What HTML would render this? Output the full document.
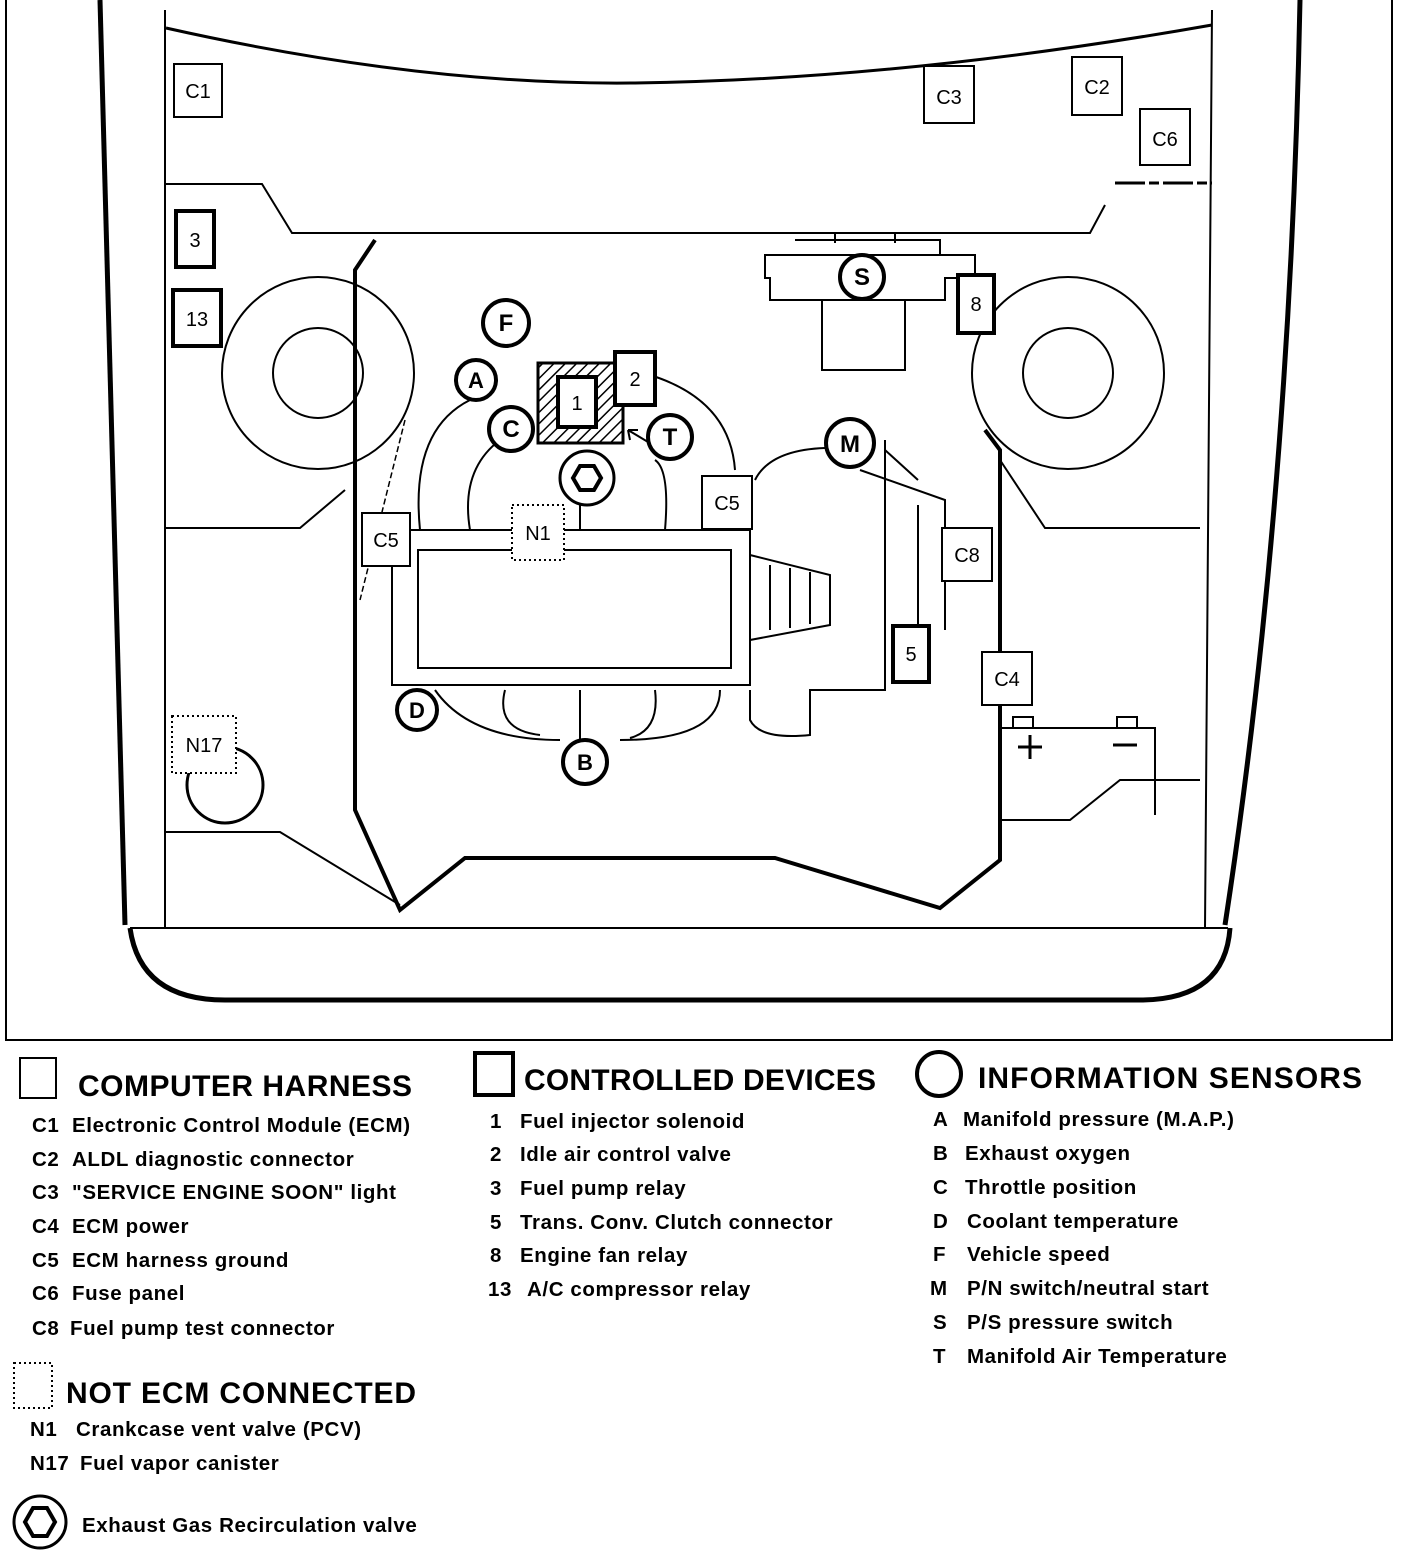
<!DOCTYPE html>
<html><head><style>
body{margin:0;background:#fff}
svg text{font-family:"Liberation Sans",sans-serif;font-weight:bold;fill:#000}
</style></head><body>
<svg width="1408" height="1554" viewBox="0 0 1408 1554" xmlns="http://www.w3.org/2000/svg">
<g fill="none" stroke="#000">
<path d="M6 0 V1040 H1392 V0" stroke-width="2"/>
<path d="M100 0 Q112 500 125 925" stroke-width="5"/>
<path d="M1300 0 Q1290 500 1225 925" stroke-width="5"/>
<path d="M130 928 Q140 1000 225 1000 H1140 Q1225 1000 1230 928" stroke-width="5"/>
<path d="M130 928 H1228" stroke-width="2"/>
<path d="M165 10 V928 M1212 10 Q1210 450 1205 928" stroke-width="2"/>
<path d="M166 28 Q420 85 631 83 Q900 80 1212 25" stroke-width="3"/>
<path d="M165 184 H262 L292 233 H1090 L1105 205" stroke-width="2"/>
<path d="M1115 183 H1212" stroke-width="3" stroke-dasharray="30 4 10 4"/>
<path d="M375 240 L355 270 V810 L400 910 L465 858 H775 L940 908 L1000 860 V450 L985 430" stroke-width="4"/>
<path d="M165 832 H280 L400 905" stroke-width="2"/>
<path d="M1200 780 H1120 L1070 820 H1000" stroke-width="2"/>
<path d="M165 528 H300 L345 490" stroke-width="2"/>
<path d="M1200 528 H1045 L1000 460" stroke-width="2"/>
<circle cx="318" cy="373" r="96" stroke-width="2"/><circle cx="318" cy="373" r="45" stroke-width="2"/>
<circle cx="1068" cy="373" r="96" stroke-width="2"/><circle cx="1068" cy="373" r="45" stroke-width="2"/>
<path d="M405 420 L360 600" stroke-width="1.5" stroke-dasharray="6 3"/>
<path d="M765 255 H975 V278 H945 V300 H770 V278 H765 Z" stroke-width="2"/>
<path d="M795 240 H940 V255 M822 300 V370 H905 V300 M835 232 V243 M895 232 V243" stroke-width="2"/>
<rect x="392" y="530" width="358" height="155" stroke-width="2"/>
<rect x="418" y="550" width="313" height="118" stroke-width="2"/>
<path d="M750 555 L830 575 V625 L750 640 Z M770 565 V630 M790 568 V628 M810 572 V624" stroke-width="2"/>
<path d="M420 530 Q410 430 470 400 M470 530 Q460 470 500 440 M665 530 Q670 470 655 460 M735 470 Q730 400 650 375" stroke-width="2"/>
<path d="M435 690 Q470 740 560 740 M505 690 Q495 730 540 735 M620 740 Q720 740 720 690 M655 690 Q660 730 630 738 M580 690 V740" stroke-width="2"/>
<path d="M750 690 V720 Q760 740 810 735 V690 Q830 690 840 690 H885 V440 M860 470 L945 500 V630" stroke-width="2"/>
<path d="M755 480 Q770 450 825 448 M750 530 V480 M918 505 V630 M885 450 L918 480" stroke-width="2"/>
<path d="M580 505 V530" stroke-width="2"/>
<path d="M1000 728 H1155 V815" stroke-width="2"/>
<rect x="1013" y="717" width="20" height="11" stroke-width="2"/><rect x="1117" y="717" width="20" height="11" stroke-width="2"/>
<path d="M1018 747 H1042 M1030 735 V759 M1113 745 H1137" stroke-width="3"/>
<circle cx="225" cy="785" r="38" stroke-width="3"/>
</g>
<defs><pattern id="h" width="8" height="8" patternUnits="userSpaceOnUse" patternTransform="rotate(45)"><rect width="8" height="8" fill="#fff"/><line x1="0" y1="0" x2="0" y2="8" stroke="#000" stroke-width="3"/></pattern></defs>
<rect x="538" y="363" width="85" height="80" fill="url(#h)" stroke="#000" stroke-width="3"/>
<g stroke="#000" fill="#fff">
<rect x="174" y="64" width="48" height="53" stroke-width="2"/>
<rect x="924" y="66" width="50" height="57" stroke-width="2"/>
<rect x="1072" y="57" width="50" height="58" stroke-width="2"/>
<rect x="1140" y="109" width="50" height="56" stroke-width="2"/>
<rect x="362" y="513" width="48" height="53" stroke-width="2"/>
<rect x="702" y="476" width="50" height="53" stroke-width="2"/>
<rect x="942" y="528" width="50" height="53" stroke-width="2"/>
<rect x="982" y="652" width="50" height="53" stroke-width="2"/>
<rect x="176" y="211" width="38" height="56" stroke-width="4"/>
<rect x="173" y="290" width="48" height="56" stroke-width="4"/>
<rect x="958" y="275" width="36" height="58" stroke-width="4"/>
<rect x="558" y="377" width="38" height="50" stroke-width="4"/>
<rect x="615" y="352" width="40" height="53" stroke-width="4"/>
<rect x="893" y="626" width="36" height="56" stroke-width="4"/>
<rect x="512" y="505" width="52" height="55" stroke-width="2" stroke-dasharray="2 3"/>
<rect x="172" y="716" width="64" height="57" stroke-width="2" stroke-dasharray="2 3"/>
<circle cx="506" cy="323" r="23" stroke-width="4"/>
<circle cx="476" cy="380" r="20" stroke-width="4"/>
<circle cx="511" cy="429" r="22" stroke-width="4"/>
<circle cx="670" cy="437" r="22" stroke-width="4"/>
<circle cx="862" cy="277" r="22" stroke-width="4"/>
<circle cx="850" cy="443" r="24" stroke-width="4"/>
<circle cx="417" cy="710" r="20" stroke-width="4"/>
<circle cx="585" cy="762" r="22" stroke-width="4"/>
<circle cx="587" cy="478" r="27" stroke-width="3"/>
<polygon points="580,466 594,466 601,478 594,490 580,490 573,478" stroke-width="4"/>
</g>
<path d="M628 430 L648 442 M628 430 L630 440 M628 430 L638 430" stroke="#000" stroke-width="2" fill="none"/>
<g font-size="20" text-anchor="middle">
<text x="198" y="98" style="font-weight:normal">C1</text>
<text x="949" y="104" style="font-weight:normal">C3</text>
<text x="1097" y="94" style="font-weight:normal">C2</text>
<text x="1165" y="146" style="font-weight:normal">C6</text>
<text x="386" y="547" style="font-weight:normal">C5</text>
<text x="727" y="510" style="font-weight:normal">C5</text>
<text x="967" y="562" style="font-weight:normal">C8</text>
<text x="1007" y="686" style="font-weight:normal">C4</text>
<text x="195" y="247" style="font-weight:normal">3</text>
<text x="197" y="326" style="font-weight:normal">13</text>
<text x="976" y="311" style="font-weight:normal">8</text>
<text x="577" y="410" style="font-weight:normal">1</text>
<text x="635" y="386" style="font-weight:normal">2</text>
<text x="911" y="661" style="font-weight:normal">5</text>
<text x="538" y="540" style="font-weight:normal">N1</text>
<text x="204" y="752" style="font-weight:normal">N17</text>
<text x="506" y="331" font-size="24">F</text>
<text x="476" y="388" font-size="22">A</text>
<text x="511" y="437" font-size="24">C</text>
<text x="670" y="445" font-size="24">T</text>
<text x="862" y="285" font-size="24">S</text>
<text x="850" y="452" font-size="24">M</text>
<text x="417" y="718" font-size="22">D</text>
<text x="585" y="770" font-size="22">B</text>
</g>
<rect x="20" y="1058" width="36" height="40" fill="none" stroke="#000" stroke-width="2"/>
<text x="78" y="1096" font-size="30" textLength="334">COMPUTER HARNESS</text>
<rect x="475" y="1053" width="38" height="42" fill="none" stroke="#000" stroke-width="4"/>
<text x="524" y="1090" font-size="30" textLength="352">CONTROLLED DEVICES</text>
<circle cx="939" cy="1074" r="22" fill="none" stroke="#000" stroke-width="4"/>
<text x="978" y="1088" font-size="30" textLength="384">INFORMATION SENSORS</text>
<rect x="14" y="1363" width="38" height="45" fill="none" stroke="#000" stroke-width="2" stroke-dasharray="2 3"/>
<text x="66" y="1403" font-size="30" textLength="350">NOT ECM CONNECTED</text>
<g font-size="20.5" letter-spacing="0.6">
<text x="32" y="1132">C1 <tspan x="72">Electronic Control Module (ECM)</tspan></text>
<text x="32" y="1166">C2 <tspan x="72">ALDL diagnostic connector</tspan></text>
<text x="32" y="1199">C3 <tspan x="72">"SERVICE ENGINE SOON" light</tspan></text>
<text x="32" y="1233">C4 <tspan x="72">ECM power</tspan></text>
<text x="32" y="1267">C5 <tspan x="72">ECM harness ground</tspan></text>
<text x="32" y="1300">C6 <tspan x="72">Fuse panel</tspan></text>
<text x="32" y="1335">C8 <tspan x="70">Fuel pump test connector</tspan></text>
<text x="30" y="1436">N1 <tspan x="76">Crankcase vent valve (PCV)</tspan></text>
<text x="30" y="1470">N17 <tspan x="80">Fuel vapor canister</tspan></text>
<text x="82" y="1532">Exhaust Gas Recirculation valve</text>
<text x="490" y="1128">1 <tspan x="520">Fuel injector solenoid</tspan></text>
<text x="490" y="1161">2 <tspan x="520">Idle air control valve</tspan></text>
<text x="490" y="1195">3 <tspan x="520">Fuel pump relay</tspan></text>
<text x="490" y="1229">5 <tspan x="520">Trans. Conv. Clutch connector</tspan></text>
<text x="490" y="1262">8 <tspan x="520">Engine fan relay</tspan></text>
<text x="488" y="1296">13 <tspan x="527">A/C compressor relay</tspan></text>
<text x="933" y="1126">A <tspan x="963">Manifold pressure (M.A.P.)</tspan></text>
<text x="933" y="1160">B <tspan x="965">Exhaust oxygen</tspan></text>
<text x="933" y="1194">C <tspan x="965">Throttle position</tspan></text>
<text x="933" y="1228">D <tspan x="967">Coolant temperature</tspan></text>
<text x="933" y="1261">F <tspan x="967">Vehicle speed</tspan></text>
<text x="930" y="1295">M <tspan x="967">P/N switch/neutral start</tspan></text>
<text x="933" y="1329">S <tspan x="967">P/S pressure switch</tspan></text>
<text x="933" y="1363">T <tspan x="967">Manifold Air Temperature</tspan></text>
</g>
<circle cx="40" cy="1522" r="26" fill="none" stroke="#000" stroke-width="3"/>
<polygon points="33,1508 47,1508 55,1522 47,1536 33,1536 25,1522" fill="none" stroke="#000" stroke-width="4"/>
</svg>
</body></html>
